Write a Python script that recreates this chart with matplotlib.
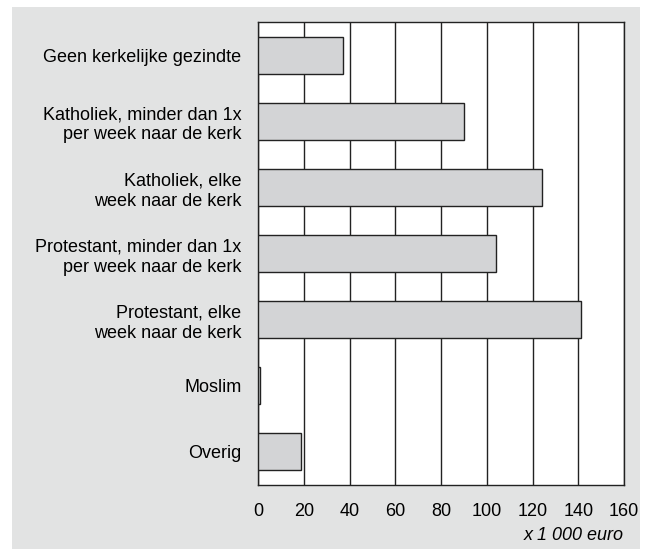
import matplotlib.pyplot as plt
from matplotlib.patches import Rectangle

categories = [
    "Geen kerkelijke gezindte",
    "Katholiek, minder dan 1x\nper week naar de kerk",
    "Katholiek, elke\nweek naar de kerk",
    "Protestant, minder dan 1x\nper week naar de kerk",
    "Protestant, elke\nweek naar de kerk",
    "Moslim",
    "Overig",
]
values = [37, 90, 124, 104, 141, 1, 19]
x_ticks = [0, 20, 40, 60, 80, 100, 120, 140, 160]
unit_label = "x 1 000 euro"

plt.rcParams["font.family"] = ["Liberation Sans", "DejaVu Sans"]

fig = plt.figure(figsize=(6.45, 5.49), dpi=100)
fig.patch.set_facecolor("white")

# grey panel behind the chart
fig.patches.append(
    Rectangle((12 / 645, 0), 628 / 645, 1 - 7 / 549,
              transform=fig.transFigure, facecolor="#e2e3e3",
              edgecolor="none", zorder=-10)
)

ax = fig.add_axes([258 / 645, 1 - 485 / 549, 366 / 645, 463 / 549])
ax.set_facecolor("white")

positions = list(range(len(categories)))
ax.barh(positions, values, height=0.56, color="#d3d4d6",
        edgecolor="#222222", linewidth=1.0, zorder=3)

ax.set_xlim(0, 160)
ax.set_ylim(len(categories) - 0.5, -0.5)
ax.set_xticks(x_ticks)
ax.set_xticklabels([str(t) for t in x_ticks], fontsize=13)
ax.set_yticks(positions)
ax.set_yticklabels(categories, fontsize=13, linespacing=1.25)
ax.tick_params(axis="x", length=0, pad=13)
ax.tick_params(axis="y", length=0, pad=12)

ax.grid(axis="x", color="#222222", linewidth=1.0, zorder=1)
for spine in ax.spines.values():
    spine.set_color("#222222")
    spine.set_linewidth(1.0)

ax.text(1.0, -0.09, unit_label, transform=ax.transAxes, ha="right",
        va="top", fontsize=13, style="italic")

fig.savefig("out.png", dpi=100, facecolor=fig.get_facecolor())
